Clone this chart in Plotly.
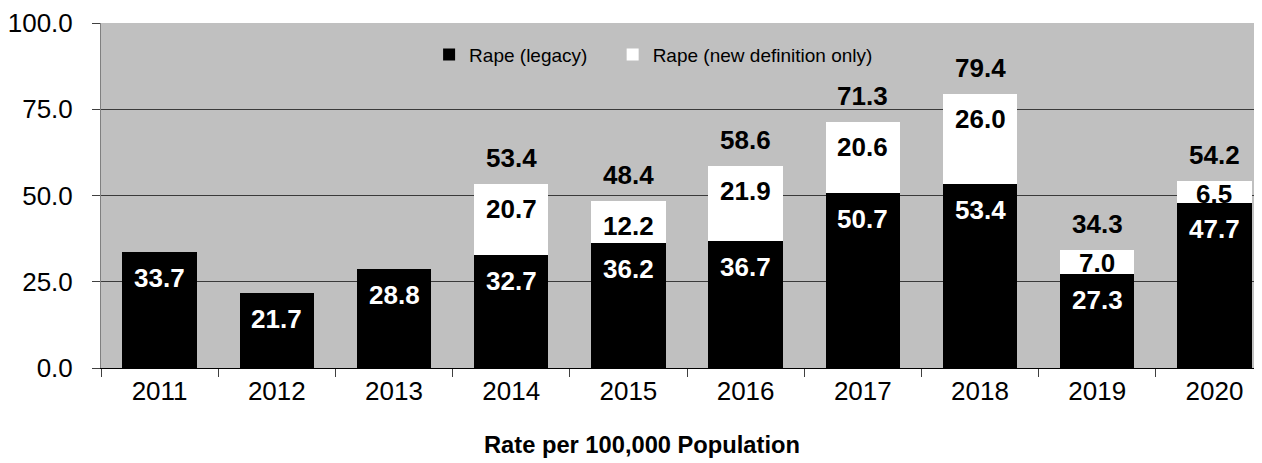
import plotly.graph_objects as go

years = ["2011", "2012", "2013", "2014", "2015", "2016", "2017", "2018", "2019", "2020"]
legacy = [33.7, 21.7, 28.8, 32.7, 36.2, 36.7, 50.7, 53.4, 27.3, 47.7]
new_def = [None, None, None, 20.7, 12.2, 21.9, 20.6, 26.0, 7.0, 6.5]
totals = [None, None, None, 53.4, 48.4, 58.6, 71.3, 79.4, 34.3, 54.2]

FONT = "Liberation Sans, Arial, sans-serif"

fig = go.Figure()
fig.add_trace(go.Bar(
    x=years, y=legacy, name="Rape (legacy)", legend="legend",
    marker=dict(color="black", line=dict(width=0)),
))
fig.add_trace(go.Bar(
    x=years, y=new_def, name="Rape (new definition only)", legend="legend2",
    marker=dict(color="white", line=dict(width=0)),
))

# value labels (x given as category index)
annotations = []
for i, (lg, nd, tot) in enumerate(zip(legacy, new_def, totals)):
    annotations.append(dict(
        x=i, y=lg, xref="x", yref="y", yshift=-26, text=f"<b>{lg:.1f}</b>", showarrow=False,
        font=dict(family=FONT, size=26, color="white"),
    ))
    if nd is not None:
        annotations.append(dict(
            x=i, y=tot, xref="x", yref="y", yshift=-25 if nd > 10 else -13,
            text=f"<b>{nd:.1f}</b>", showarrow=False,
            font=dict(family=FONT, size=26, color="black"),
        ))
        annotations.append(dict(
            x=i, y=tot, xref="x", yref="y", yshift=26, text=f"<b>{tot:.1f}</b>", showarrow=False,
            font=dict(family=FONT, size=26, color="black"),
        ))

# axis title
annotations.append(dict(
    x=(640 - 98) / 1164, y=-0.222, xref="paper", yref="paper", yanchor="middle",
    text="<b>Rate per 100,000 Population</b>", showarrow=False,
    font=dict(family=FONT, size=23.7, color="black"),
))

legend_style = dict(
    orientation="h", y=0.908, xanchor="left", yanchor="middle",
    bgcolor="rgba(0,0,0,0)", font=dict(family=FONT, size=19),
)

fig.update_layout(
    width=1254, height=455,
    margin=dict(l=90, r=0, t=13, b=95),
    barmode="stack",
    bargap=0.365,
    plot_bgcolor="#c0c0c0",
    paper_bgcolor="white",
    font=dict(family=FONT, color="black"),
    showlegend=True,
    legend=dict(x=0.2826, **legend_style),
    legend2=dict(x=0.4407, **legend_style),
    annotations=annotations,
)

fig.update_xaxes(
    type="category",
    range=[-0.5, 9.406], tickson="boundaries", ticks="outside", ticklen=8,
    tickcolor="#404040", showline=True, linecolor="black", linewidth=1,
    tickfont=dict(size=26), showgrid=False,
)
fig.update_yaxes(
    range=[0, 100], tickvals=[0, 25, 50, 75, 100], tickformat=".1f",
    ticks="outside", ticklen=8, tickcolor="#404040",
    showline=True, linecolor="#808080", linewidth=1,
    gridcolor="#3a3a3a", gridwidth=1, zeroline=False,
    tickfont=dict(size=26), ticklabelstandoff=14, ticklabeloverflow="allow",
)

fig.write_html("out.html")
